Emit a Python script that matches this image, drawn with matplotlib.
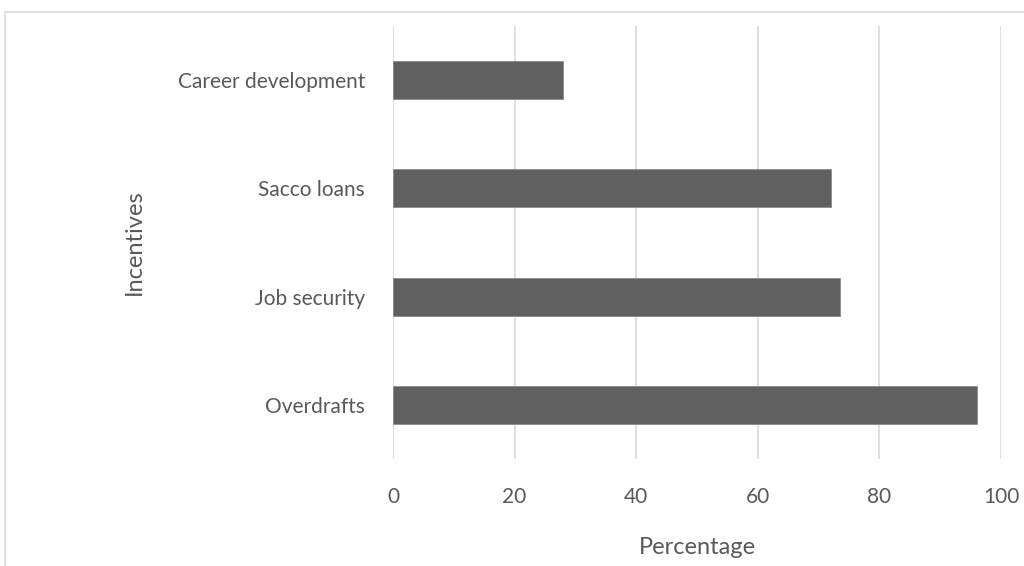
import matplotlib
matplotlib.use("Agg")
import matplotlib.pyplot as plt
from matplotlib.patches import Rectangle

categories = ["Overdrafts", "Job security", "Sacco loans", "Career development"]
values = [96, 73.5, 72, 28]
xticks = [0, 20, 40, 60, 80, 100]

plt.rcParams['font.family'] = ['Lato', 'DejaVu Sans']

fig = plt.figure(figsize=(10.24, 5.66), dpi=100)
ax = fig.add_axes([393/1024, 1 - 459/566, (1001-393)/1024, (459-26)/566])

ax.barh(range(len(categories)), values, height=0.35, color="#606060",
        edgecolor="#8a8a8a", linewidth=0.6, zorder=3)
ax.set_xlim(0, 100)
ax.set_ylim(-0.5, len(categories) - 0.5)
ax.set_xticks(xticks)
ax.set_xticklabels([str(t) for t in xticks])
ax.set_yticks(range(len(categories)))
ax.set_yticklabels(categories)
ax.xaxis.grid(True, color="#d9d9d9", linewidth=1.2, zorder=0)
ax.set_axisbelow(True)
for s in ax.spines.values():
    s.set_visible(False)
ax.tick_params(axis='both', length=0, colors="#595959", labelsize=15)
ax.tick_params(axis='x', pad=20)
ax.tick_params(axis='y', pad=20)

ax.set_xlabel("Percentage", fontsize=17, color="#595959", labelpad=22)
ax.set_ylabel("Incentives", fontsize=17, color="#595959", labelpad=24)

# outer chart frame (cut off at right and bottom)
fig.patches.append(Rectangle((5/1024, -0.1), 1.2, 1 - 12/566 + 0.1,
                             transform=fig.transFigure, fill=False,
                             edgecolor="#d9d9d9", linewidth=1.2))

fig.savefig("out.png", dpi=100)
